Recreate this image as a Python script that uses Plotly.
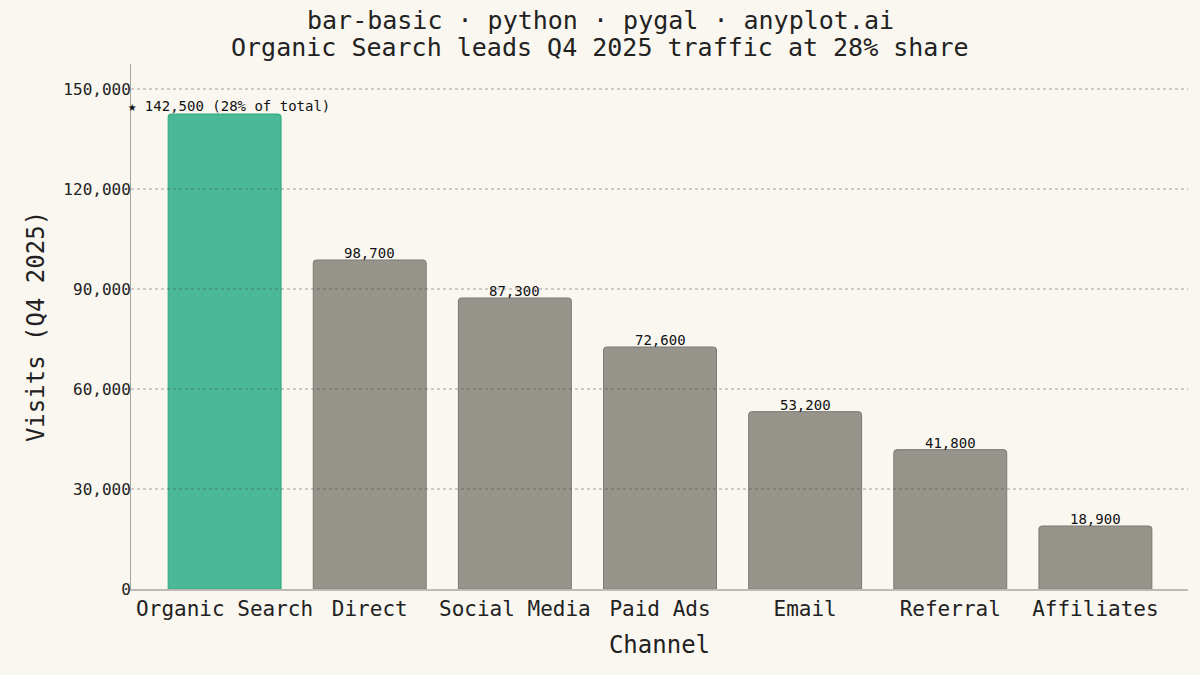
import plotly.graph_objects as go

channels = ["Organic Search", "Direct", "Social Media", "Paid Ads", "Email", "Referral", "Affiliates"]
visits = [142500, 98700, 87300, 72600, 53200, 41800, 18900]
highlight = "Organic Search"
y_ticks = [0, 30000, 60000, 90000, 120000, 150000]
title_lines = ["bar-basic · python · pygal · anyplot.ai",
               "Organic Search leads Q4 2025 traffic at 28% share"]

FONT = "DejaVu Sans Mono"
BG = "#faf7f1"

total = sum(visits)
fill = ["#4bb897" if c == highlight else "#97948c" for c in channels]
line = ["#2aaa7e" if c == highlight else "#7b7872" for c in channels]

fig = go.Figure()
fig.add_trace(go.Bar(
    x=channels, y=visits,
    marker=dict(color=fill, line=dict(color=line, width=1), cornerradius=3),
    width=0.778,
    cliponaxis=False,
    hoverinfo="x+y",
))

# dotted grid drawn above the bars (as in the reference)
for t in y_ticks[1:]:
    fig.add_shape(
        type="line", xref="paper", x0=0, x1=1, yref="y", y0=t, y1=t,
        layer="above", line=dict(color="rgba(70,68,64,0.5)", width=1, dash="dot"),
    )

hi_idx = channels.index(highlight)
for c, v in zip(channels, visits):
    if c == highlight:
        continue
    fig.add_annotation(
        x=c, y=v, xref="x", yref="y", text=f"{v:,}",
        xanchor="center", yanchor="bottom", yshift=-3, showarrow=False,
        font=dict(family=FONT, size=14, color="#111"),
    )

fig.add_annotation(
    xref="paper", yref="y", x=0, y=visits[hi_idx],
    xanchor="left", yanchor="bottom", xshift=-5, yshift=-2,
    text=f"★ {visits[hi_idx]:,} ({round(100*visits[hi_idx]/total)}% of total)",
    showarrow=False, font=dict(family=FONT, size=14, color="#111"),
)

# title lines (paper coords relative to plot area: l=131,w=1057,t=64,h=525)
for i, t in enumerate(title_lines):
    fig.add_annotation(
        xref="paper", yref="paper", x=(600 - 131) / 1057, y=(589 - (20 + 28 * i)) / 525,
        xanchor="center", yanchor="middle", text=t, showarrow=False,
        font=dict(family=FONT, size=25, color="#222"),
    )

fig.update_layout(
    width=1200, height=675,
    paper_bgcolor=BG, plot_bgcolor=BG,
    margin=dict(l=131, r=12, t=64, b=86),
    showlegend=False,
)
fig.update_xaxes(
    showline=True, linecolor="#bdbab4", linewidth=2,
    showgrid=False, ticks="",
    tickfont=dict(family=FONT, size=21, color="#222"),
    title=dict(text="Channel", font=dict(family=FONT, size=24, color="#222"), standoff=16),
    range=[-0.645, len(channels) - 1 + 0.638],
)
fig.update_yaxes(
    range=[0, 157500],
    tickvals=y_ticks, ticktext=[f"{t:,}" for t in y_ticks],
    showline=True, linecolor="#aaa7a1", linewidth=1,
    ticks="", ticklabelstandoff=-4,
    showgrid=False, zeroline=False,
    tickfont=dict(family=FONT, size=16, color="#222"),
    title=dict(text="Visits (Q4 2025)", font=dict(family=FONT, size=24, color="#222"), standoff=11),
)

fig.write_html("out.html", post_script="document.body.style.margin='0';",
               config={"displayModeBar": False})
